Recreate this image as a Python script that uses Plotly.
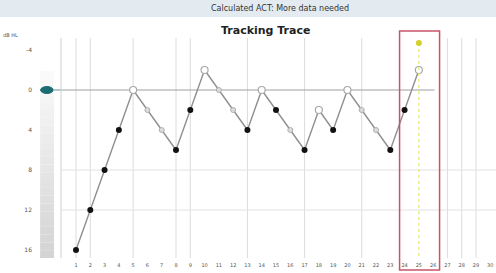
import plotly.graph_objects as go

# ---- data ----
trials = list(range(1, 26))
levels = [16, 12, 8, 4, 0, 2, 4, 6, 2, -2, 0, 2, 4, 0, 2, 4, 6, 2, 4, 0, 2, 4, 6, 2, -2]
kinds = ["f", "f", "f", "f", "h", "l", "l", "f", "f", "h", "l", "l", "f", "h", "f",
         "l", "f", "h", "f", "h", "l", "l", "f", "f", "h"]
next_trial = 25
next_level = -4.7
x_ticks = list(range(1, 31))
y_ticks = [-4, 0, 4, 8, 12, 16]
y_ticktext = ["-4", "0", "4", "8", "12", "16"]
guide_x = [1, 2, 5, 8, 9, 13, 17, 21, 27, 28, 29]
grid_y = [8, 12]
target_level = 0
target_end = 26.1
box_from, box_to = 23.65, 26.45

fig = go.Figure()

# connecting line
fig.add_trace(go.Scatter(x=trials, y=levels, mode="lines",
                         line=dict(color="#8f8f8f", width=1.4), hoverinfo="skip"))

def sel(k):
    return [t for t, kk in zip(trials, kinds) if kk == k], [v for v, kk in zip(levels, kinds) if kk == k]

lx, ly = sel("l")
fig.add_trace(go.Scatter(x=lx, y=ly, mode="markers",
                         marker=dict(size=5, color="#dcdcdc", line=dict(color="#b0b0b0", width=1))))
hx, hy = sel("h")
fig.add_trace(go.Scatter(x=hx, y=hy, mode="markers",
                         marker=dict(size=7, color="white", line=dict(color="#a8a8a8", width=1.2))))
fx, fy = sel("f")
fig.add_trace(go.Scatter(x=fx, y=fy, mode="markers",
                         marker=dict(size=6, color="#111111")))

# yellow next-trial indicator
fig.add_trace(go.Scatter(x=[next_trial, next_trial], y=[next_level, 16.8], mode="lines",
                         line=dict(color="#e6e66a", width=1.2, dash="dot"), hoverinfo="skip"))
fig.add_trace(go.Scatter(x=[next_trial], y=[next_level], mode="markers",
                         marker=dict(size=6, color="#d2cf2e")))

shapes = []
# vertical guide lines
for gx in guide_x:
    shapes.append(dict(type="line", xref="x", yref="paper", x0=gx, x1=gx, y0=0, y1=1,
                       line=dict(color="#dcdcdc", width=1), layer="below"))
# horizontal grid lines
for gy in grid_y:
    shapes.append(dict(type="line", xref="paper", yref="y", x0=0, x1=1, y0=gy, y1=gy,
                       line=dict(color="#e2e2e2", width=1), layer="below"))
# target line
shapes.append(dict(type="line", xref="x", yref="y", x0=-1, x1=target_end, y0=target_level, y1=target_level,
                   line=dict(color="#a0a0a0", width=1.2), layer="below"))
shapes.append(dict(type="line", xref="paper", yref="y", x0=-0.03, x1=0, y0=target_level, y1=target_level,
                   line=dict(color="#7ea2a6", width=1.2)))
# left frame line
shapes.append(dict(type="line", xref="paper", yref="paper", x0=0, x1=0, y0=0, y1=1,
                   line=dict(color="#d0d0d0", width=1)))
# gradient level bar (stepped)
n = 24
top, bot = -1.9, 16.8
for i in range(n):
    y0 = top + (bot - top) * i / n
    y1 = top + (bot - top) * (i + 1) / n
    g = int(250 - (250 - 212) * i / (n - 1))
    shapes.append(dict(type="rect", xref="paper", yref="y", x0=-0.048, x1=-0.016, y0=y0, y1=y1,
                       fillcolor=f"rgb({g},{g},{g})", line=dict(width=0)))
# teal marker
shapes.append(dict(type="circle", xref="paper", yref="y", x0=-0.047, x1=-0.018, y0=-0.35, y1=0.35,
                   fillcolor="#1d6b73", line=dict(color="#1d6b73", width=1)))
# banner
shapes.append(dict(type="rect", xref="paper", yref="paper", x0=-0.15, x1=1.05, y0=1.095, y1=1.2,
                   fillcolor="#e3ebf1", line=dict(width=0), layer="below"))
# red highlight box
shapes.append(dict(type="rect", xref="x", yref="paper", x0=box_from, x1=box_to, y0=-0.054, y1=1.032,
                   line=dict(color="#c9546a", width=1.5), fillcolor="rgba(0,0,0,0)"))

annotations = [
    dict(text="Calculated ACT: More data needed", xref="paper", yref="paper", x=0.503, y=1.136,
         showarrow=False, font=dict(size=8, color="#333"), xanchor="center", yanchor="middle"),
    dict(text="<b>Tracking Trace</b>", xref="paper", yref="paper", x=0.469, y=1.032,
         showarrow=False, font=dict(size=11, color="#222"), xanchor="center", yanchor="middle"),
    dict(text="dB HL", xref="paper", yref="paper", x=-0.117, y=1.014,
         showarrow=False, font=dict(size=5, color="#555"), xanchor="center", yanchor="middle"),
]

fig.update_layout(
    width=496, height=273,
    margin=dict(l=61, r=0, t=38, b=15),
    paper_bgcolor="white", plot_bgcolor="white",
    showlegend=False,
    font=dict(family="DejaVu Sans", size=6, color="#555"),
    shapes=shapes, annotations=annotations,
    xaxis=dict(range=[-0.05, 30.4], tickvals=x_ticks, ticktext=[str(t) for t in x_ticks],
               showgrid=False, zeroline=False, showline=False, ticks="",
               tickfont=dict(size=5, color="#555"), ticklabelstandoff=3),
    yaxis=dict(range=[16.8, -5.2], tickvals=y_ticks, ticktext=y_ticktext,
               showgrid=False, zeroline=False, showline=False, ticks="",
               tickfont=dict(size=6, color="#555"), ticklabelstandoff=28),
)

fig.write_html("out.html", config={"displayModeBar": False},
               post_script="document.body.style.margin='0';document.body.style.overflow='hidden';")
